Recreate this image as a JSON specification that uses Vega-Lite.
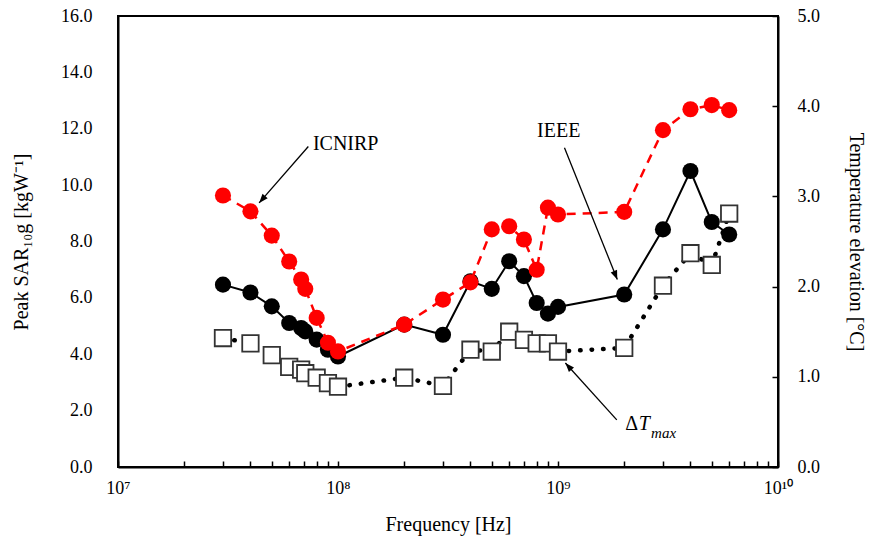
{
  "$schema": "https://vega.github.io/schema/vega-lite/v6.json",
  "width": 660,
  "height": 451,
  "autosize": {"type": "none"},
  "padding": {"left": 118, "top": 16, "right": 97, "bottom": 82},
  "background": "white",
  "config": {
    "font": "Times New Roman, Liberation Serif, serif",
    "view": {"stroke": "#000", "strokeWidth": 2},
    "text": {"font": "Times New Roman, Liberation Serif, serif"},
    "axis": {
      "labelFont": "Times New Roman, Liberation Serif, serif", "titleFont": "Times New Roman, Liberation Serif, serif",
      "labelFontSize": 18, "titleFontSize": 20, "labelColor": "#000", "titleColor": "#000",
      "titleFontWeight": "normal", "grid": false, "domainColor": "#000", "domainWidth": 2,
      "tickColor": "#000", "tickWidth": 1.5
    }
  },
  "datasets": {
    "series": [
      {"f": 30000000, "series": "ICNIRP", "value": 9.63},
      {"f": 40000000, "series": "ICNIRP", "value": 9.07},
      {"f": 50000000, "series": "ICNIRP", "value": 8.21},
      {"f": 60000000, "series": "ICNIRP", "value": 7.29},
      {"f": 68000000, "series": "ICNIRP", "value": 6.65},
      {"f": 71000000, "series": "ICNIRP", "value": 6.32},
      {"f": 80000000, "series": "ICNIRP", "value": 5.29},
      {"f": 90000000, "series": "ICNIRP", "value": 4.41},
      {"f": 100000000, "series": "ICNIRP", "value": 4.10},
      {"f": 200000000, "series": "ICNIRP", "value": 5.05},
      {"f": 300000000, "series": "ICNIRP", "value": 5.94},
      {"f": 400000000, "series": "ICNIRP", "value": 6.55},
      {"f": 500000000, "series": "ICNIRP", "value": 8.43},
      {"f": 600000000, "series": "ICNIRP", "value": 8.54},
      {"f": 700000000, "series": "ICNIRP", "value": 8.07},
      {"f": 800000000, "series": "ICNIRP", "value": 7.00},
      {"f": 900000000, "series": "ICNIRP", "value": 9.20},
      {"f": 1000000000, "series": "ICNIRP", "value": 8.96},
      {"f": 2000000000, "series": "ICNIRP", "value": 9.05},
      {"f": 3000000000, "series": "ICNIRP", "value": 11.95},
      {"f": 4000000000, "series": "ICNIRP", "value": 12.69},
      {"f": 5000000000, "series": "ICNIRP", "value": 12.84},
      {"f": 6000000000, "series": "ICNIRP", "value": 12.66},
      {"f": 30000000, "series": "IEEE", "value": 6.47},
      {"f": 40000000, "series": "IEEE", "value": 6.19},
      {"f": 50000000, "series": "IEEE", "value": 5.70},
      {"f": 60000000, "series": "IEEE", "value": 5.11},
      {"f": 68000000, "series": "IEEE", "value": 4.93},
      {"f": 71000000, "series": "IEEE", "value": 4.81},
      {"f": 80000000, "series": "IEEE", "value": 4.52},
      {"f": 90000000, "series": "IEEE", "value": 4.16},
      {"f": 100000000, "series": "IEEE", "value": 3.92},
      {"f": 200000000, "series": "IEEE", "value": 5.05},
      {"f": 300000000, "series": "IEEE", "value": 4.69},
      {"f": 400000000, "series": "IEEE", "value": 6.59},
      {"f": 500000000, "series": "IEEE", "value": 6.32},
      {"f": 600000000, "series": "IEEE", "value": 7.30},
      {"f": 700000000, "series": "IEEE", "value": 6.77},
      {"f": 800000000, "series": "IEEE", "value": 5.82},
      {"f": 900000000, "series": "IEEE", "value": 5.44},
      {"f": 1000000000, "series": "IEEE", "value": 5.68},
      {"f": 2000000000, "series": "IEEE", "value": 6.12},
      {"f": 3000000000, "series": "IEEE", "value": 8.43},
      {"f": 4000000000, "series": "IEEE", "value": 10.50},
      {"f": 5000000000, "series": "IEEE", "value": 8.69},
      {"f": 6000000000, "series": "IEEE", "value": 8.25}
    ],
    "temp": [
      {"f": 30000000, "dT": 1.43},
      {"f": 40000000, "dT": 1.37},
      {"f": 50000000, "dT": 1.24},
      {"f": 60000000, "dT": 1.11},
      {"f": 68000000, "dT": 1.08},
      {"f": 71000000, "dT": 1.04},
      {"f": 80000000, "dT": 0.99},
      {"f": 90000000, "dT": 0.93},
      {"f": 100000000, "dT": 0.89},
      {"f": 200000000, "dT": 0.99},
      {"f": 300000000, "dT": 0.90},
      {"f": 400000000, "dT": 1.30},
      {"f": 500000000, "dT": 1.28},
      {"f": 600000000, "dT": 1.50},
      {"f": 700000000, "dT": 1.41},
      {"f": 800000000, "dT": 1.37},
      {"f": 900000000, "dT": 1.37},
      {"f": 1000000000, "dT": 1.28},
      {"f": 2000000000, "dT": 1.32},
      {"f": 3000000000, "dT": 2.01},
      {"f": 4000000000, "dT": 2.37},
      {"f": 5000000000, "dT": 2.24},
      {"f": 6000000000, "dT": 2.81}
    ],
    "arrows": [
      {"name": "ICNIRP", "f": 73300000, "value": 11.37, "f2": 43800000, "value2": 9.37},
      {"name": "IEEE", "f": 1070000000, "value": 11.33, "f2": 1860000000, "value2": 6.65},
      {"name": "dT", "f": 1850000000, "value": 1.67, "f2": 1080000000, "value2": 3.69}
    ],
    "labels": [
      {"text": "ICNIRP", "f": 76900000, "value": 11.45, "kind": "normal"},
      {"text": "IEEE", "f": 803000000, "value": 11.91, "kind": "normal"},
      {"text": "Δ", "f": 2020000000, "value": 1.53, "kind": "normal"},
      {"text": "T", "f": 2330000000, "value": 1.53, "kind": "italic"},
      {"text": "max", "f": 2650000000, "value": 1.21, "kind": "sub"}
    ]
  },
  "layer": [
    {
      "data": {"name": "temp"},
      "encoding": {
        "x": {"field": "f", "type": "quantitative",
          "scale": {"type": "log", "domain": [10000000, 10000000000], "nice": false},
          "axis": {
            "title": "Frequency [Hz]",
            "values": [10000000, 20000000, 30000000, 40000000, 50000000, 60000000, 70000000, 80000000, 90000000,
                       100000000, 200000000, 300000000, 400000000, 500000000, 600000000, 700000000, 800000000, 900000000,
                       1000000000, 2000000000, 3000000000, 4000000000, 5000000000, 6000000000, 7000000000, 8000000000, 9000000000, 10000000000],
            "labelExpr": "datum.value == 10000000 ? '10⁷' : datum.value == 100000000 ? '10⁸' : datum.value == 1000000000 ? '10⁹' : datum.value == 10000000000 ? '10¹⁰' : ''",
            "tickSize": -6, "labelPadding": 18, "titlePadding": 17, "labelFlush": false, "labelOverlap": false
          }},
        "y": {"field": "dT", "type": "quantitative",
          "scale": {"domain": [0, 5], "nice": false},
          "axis": {"orient": "right", "title": "Temperature elevation [°C]", "values": [0, 1, 2, 3, 4, 5], "format": ".1f",
            "tickSize": -6, "labelPadding": 25, "titlePadding": 26, "titleAngle": 90}}
      },
      "layer": [
        {"mark": {"type": "line", "color": "#000", "strokeWidth": 4.5, "strokeDash": [0.5, 11], "strokeCap": "round"}},
        {"mark": {"type": "point", "shape": "square", "filled": true, "fill": "#fff", "stroke": "#333", "strokeWidth": 1.8, "size": 270, "opacity": 1}}
      ]
    },
    {
      "encoding": {
        "x": {"field": "f", "type": "quantitative", "scale": {"type": "log", "domain": [10000000, 10000000000], "nice": false}},
        "y": {"field": "value", "type": "quantitative",
          "scale": {"domain": [0, 16], "nice": false},
          "axis": {"orient": "left", "title": "Peak SAR₁₀g [kgW⁻¹]", "values": [0, 2, 4, 6, 8, 10, 12, 14, 16], "format": ".1f",
            "ticks": false, "labelPadding": 26, "titlePadding": 29}}
      },
      "layer": [
        {"data": {"name": "series"}, "transform": [{"filter": "datum.series == 'IEEE'"}],
         "mark": {"type": "line", "color": "#000", "strokeWidth": 2}},
        {"data": {"name": "series"}, "transform": [{"filter": "datum.series == 'IEEE'"}],
         "mark": {"type": "point", "shape": "circle", "filled": true, "color": "#000", "size": 260, "opacity": 1}},
        {"data": {"name": "series"}, "transform": [{"filter": "datum.series == 'ICNIRP'"}],
         "mark": {"type": "line", "color": "#FF0000", "strokeWidth": 2.5, "strokeDash": [9, 7]}},
        {"data": {"name": "series"}, "transform": [{"filter": "datum.series == 'ICNIRP'"}],
         "mark": {"type": "point", "shape": "circle", "filled": true, "color": "#FF0000", "size": 260, "opacity": 1}},
        {"data": {"name": "arrows"},
         "mark": {"type": "rule", "color": "#000", "strokeWidth": 1.3},
         "encoding": {"x2": {"field": "f2"}, "y2": {"field": "value2"}}},
        {"data": {"name": "arrows"}, "transform": [{"filter": "datum.name == 'ICNIRP'"}],
         "mark": {"type": "point", "shape": "M0,0L-0.6,1.6L0.6,1.6Z", "filled": true, "color": "#000", "size": 130, "opacity": 1, "angle": 221},
         "encoding": {"x": {"field": "f2", "type": "quantitative"}, "y": {"field": "value2", "type": "quantitative"}}},
        {"data": {"name": "arrows"}, "transform": [{"filter": "datum.name == 'IEEE'"}],
         "mark": {"type": "point", "shape": "M0,0L-0.6,1.6L0.6,1.6Z", "filled": true, "color": "#000", "size": 130, "opacity": 1, "angle": 158},
         "encoding": {"x": {"field": "f2", "type": "quantitative"}, "y": {"field": "value2", "type": "quantitative"}}},
        {"data": {"name": "arrows"}, "transform": [{"filter": "datum.name == 'dT'"}],
         "mark": {"type": "point", "shape": "M0,0L-0.6,1.6L0.6,1.6Z", "filled": true, "color": "#000", "size": 130, "opacity": 1, "angle": 318},
         "encoding": {"x": {"field": "f2", "type": "quantitative"}, "y": {"field": "value2", "type": "quantitative"}}},
        {"data": {"name": "labels"}, "transform": [{"filter": "datum.kind == 'normal'"}],
         "mark": {"type": "text", "align": "left", "baseline": "middle", "fontSize": 20, "color": "#000"},
         "encoding": {"text": {"field": "text"}}},
        {"data": {"name": "labels"}, "transform": [{"filter": "datum.kind == 'italic'"}],
         "mark": {"type": "text", "align": "left", "baseline": "middle", "fontSize": 20, "fontStyle": "italic", "color": "#000"},
         "encoding": {"text": {"field": "text"}}},
        {"data": {"name": "labels"}, "transform": [{"filter": "datum.kind == 'sub'"}],
         "mark": {"type": "text", "align": "left", "baseline": "middle", "fontSize": 15, "fontStyle": "italic", "color": "#000"},
         "encoding": {"text": {"field": "text"}}}
      ]
    }
  ],
  "resolve": {"scale": {"y": "independent"}}
}
